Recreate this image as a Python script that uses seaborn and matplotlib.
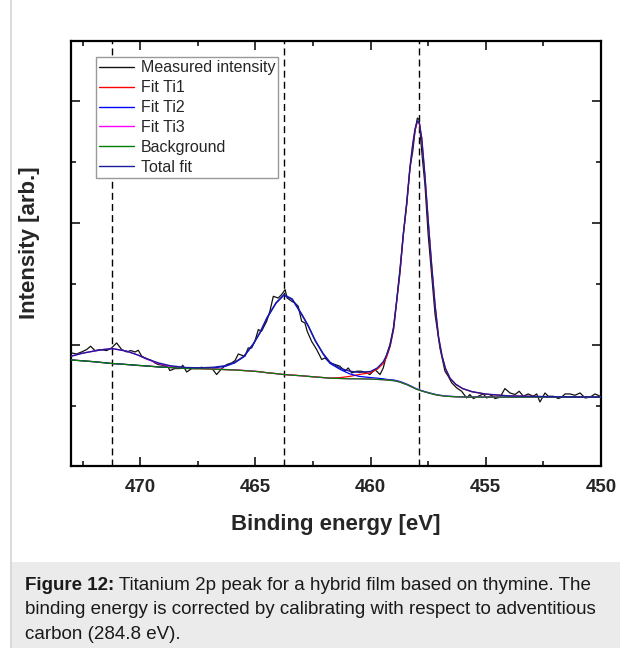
import numpy as np
import pandas as pd
import matplotlib
matplotlib.use('Agg')
import matplotlib.pyplot as plt
import seaborn as sns
from matplotlib.lines import Line2D
from matplotlib.patches import Rectangle
from matplotlib.ticker import MultipleLocator

# ---------------- data ----------------
meas_ev = [472.97, 472.76, 472.54, 472.32, 472.15, 471.96, 471.74, 471.45, 471.24, 471.02,
           470.80, 470.58, 470.41, 470.22, 470.08, 469.93, 469.72, 469.50, 469.36, 469.21,
           469.00, 468.78, 468.71, 468.49, 468.27, 468.15, 467.98, 467.76, 467.55, 467.33,
           467.11, 466.90, 466.68, 466.46, 466.24, 466.03, 465.88, 465.74, 465.59, 465.45,
           465.31, 465.16, 465.02, 464.87, 464.73, 464.51, 464.37, 464.22, 464.01, 463.86,
           463.71, 463.62, 463.42, 463.28, 463.14, 462.99, 462.85, 462.75, 462.56, 462.34,
           462.12, 461.98, 461.76, 461.54, 461.33, 461.11, 460.97, 460.82, 460.60, 460.39,
           460.17, 460.03, 459.81, 459.59, 459.45, 459.30, 459.16, 459.01, 458.87, 458.72,
           458.58, 458.43, 458.29, 458.17, 458.07, 457.97, 457.89, 457.78, 457.64, 457.50,
           457.35, 457.20, 456.99, 456.77, 456.63, 456.48, 456.26, 456.05, 455.83, 455.69,
           455.54, 455.33, 455.11, 454.96, 454.74, 454.60, 454.38, 454.17, 453.95, 453.73,
           453.55, 453.37, 453.16, 452.94, 452.79, 452.65, 452.43, 452.29, 452.07, 451.85,
           451.71, 451.56, 451.35, 451.13, 450.91, 450.69, 450.48, 450.26, 450.04]
meas_int = [1.874, 1.857, 1.890, 1.930, 1.984, 1.913, 1.930, 1.913, 1.956, 2.038,
            1.930, 1.890, 1.913, 1.890, 1.918, 1.820, 1.782, 1.749, 1.710, 1.684,
            1.672, 1.639, 1.585, 1.618, 1.618, 1.672, 1.562, 1.618, 1.618, 1.639,
            1.618, 1.628, 1.520, 1.618, 1.684, 1.710, 1.749, 1.857, 1.836, 1.820,
            1.956, 1.956, 2.066, 2.257, 2.230, 2.393, 2.557, 2.803, 2.775, 2.831,
            2.913, 2.775, 2.721, 2.693, 2.639, 2.393, 2.366, 2.230, 2.066, 1.930,
            1.766, 1.792, 1.710, 1.684, 1.656, 1.574, 1.628, 1.546, 1.574, 1.574,
            1.546, 1.520, 1.602, 1.520, 1.628, 1.848, 2.011, 2.284, 2.721, 3.267,
            3.815, 4.307, 4.907, 5.180, 5.508, 5.726, 5.700, 5.180, 4.634, 3.815,
            3.159, 2.503, 1.956, 1.574, 1.492, 1.385, 1.300, 1.246, 1.136, 1.192,
            1.126, 1.164, 1.202, 1.136, 1.180, 1.126, 1.148, 1.290, 1.218, 1.192,
            1.246, 1.164, 1.202, 1.164, 1.202, 1.070, 1.218, 1.164, 1.164, 1.126,
            1.148, 1.202, 1.202, 1.180, 1.218, 1.136, 1.148, 1.202, 1.164]

fit_ev = [473.0, 472.5, 472.0, 471.6, 471.2, 470.6, 470.1, 469.7, 469.2, 468.7,
          468.0, 467.4, 466.8, 466.3, 465.9, 465.5, 465.1, 464.8, 464.5, 464.1,
          463.76, 463.4, 463.0, 462.7, 462.4, 462.05, 461.75, 461.3, 460.9, 460.5,
          460.0, 459.7, 459.45, 459.3, 459.15, 459.0, 458.87, 458.72, 458.58, 458.43,
          458.29, 458.17, 458.07, 457.97, 457.89, 457.78, 457.64, 457.5, 457.35, 457.2,
          457.05, 456.9, 456.75, 456.55, 456.3, 456.0, 455.6, 455.0, 454.0, 452.0, 450.0]

background = [1.76, 1.745, 1.73, 1.715, 1.70, 1.685, 1.67, 1.66, 1.645, 1.635,
              1.62, 1.615, 1.61, 1.60, 1.595, 1.585, 1.575, 1.565, 1.55, 1.535,
              1.52, 1.51, 1.50, 1.49, 1.48, 1.47, 1.46, 1.455, 1.45, 1.45,
              1.445, 1.44, 1.435, 1.43, 1.425, 1.42, 1.41, 1.395, 1.375, 1.355,
              1.33, 1.31, 1.29, 1.275, 1.265, 1.25, 1.235, 1.22, 1.205, 1.19,
              1.18, 1.172, 1.165, 1.16, 1.155, 1.152, 1.15, 1.15, 1.15, 1.15, 1.15]

total_fit = [1.82, 1.87, 1.905, 1.93, 1.945, 1.905, 1.84, 1.775, 1.71, 1.665,
             1.635, 1.63, 1.64, 1.665, 1.72, 1.82, 2.02, 2.21, 2.45, 2.70,
             2.83, 2.76, 2.52, 2.32, 2.08, 1.86, 1.72, 1.62, 1.575, 1.555,
             1.57, 1.63, 1.73, 1.84, 2.0, 2.28, 2.72, 3.22, 3.82, 4.35,
             4.92, 5.30, 5.55, 5.68, 5.66, 5.40, 4.78, 4.05, 3.32, 2.66,
             2.14, 1.83, 1.62, 1.46, 1.36, 1.29, 1.24, 1.20, 1.17, 1.155, 1.15]

fit_ti1 = [1.76, 1.745, 1.73, 1.715, 1.70, 1.685, 1.67, 1.66, 1.645, 1.635,
           1.62, 1.615, 1.61, 1.60, 1.595, 1.585, 1.575, 1.565, 1.55, 1.535,
           1.52, 1.51, 1.50, 1.49, 1.48, 1.47, 1.462, 1.47, 1.49, 1.52,
           1.55, 1.61, 1.70, 1.81, 1.98, 2.26, 2.70, 3.20, 3.80, 4.33,
           4.90, 5.28, 5.53, 5.66, 5.645, 5.39, 4.77, 4.04, 3.31, 2.65,
           2.13, 1.82, 1.615, 1.455, 1.355, 1.287, 1.237, 1.198, 1.168, 1.154, 1.15]

fit_ti2 = [1.76, 1.745, 1.73, 1.715, 1.70, 1.685, 1.67, 1.66, 1.645, 1.637,
           1.625, 1.622, 1.63, 1.655, 1.71, 1.81, 2.01, 2.20, 2.44, 2.69,
           2.82, 2.75, 2.51, 2.31, 2.07, 1.85, 1.70, 1.60, 1.53, 1.49,
           1.47, 1.46, 1.45, 1.44, 1.435, 1.43, 1.42, 1.405, 1.385, 1.363,
           1.338, 1.317, 1.297, 1.281, 1.271, 1.256, 1.24, 1.225, 1.21, 1.195,
           1.184, 1.176, 1.168, 1.163, 1.158, 1.154, 1.152, 1.151, 1.15, 1.15, 1.15]

fit_ti3 = [1.82, 1.87, 1.905, 1.93, 1.945, 1.905, 1.84, 1.77, 1.70, 1.655,
           1.628, 1.62, 1.613, 1.603, 1.597, 1.587, 1.577, 1.565, 1.55, 1.535,
           1.52, 1.51, 1.50, 1.49, 1.48, 1.47, 1.46, 1.455, 1.45, 1.45,
           1.445, 1.44, 1.435, 1.43, 1.425, 1.42, 1.41, 1.395, 1.375, 1.355,
           1.33, 1.31, 1.29, 1.275, 1.265, 1.25, 1.235, 1.22, 1.205, 1.19,
           1.18, 1.172, 1.165, 1.16, 1.155, 1.152, 1.15, 1.15, 1.15, 1.15, 1.15]

peak_positions = [471.2, 463.76, 457.9]

x_ticks = [470, 465, 460, 455, 450]
x_tick_labels = ['470', '465', '460', '455', '450']

caption_bold = "Figure 12:"
caption_lines = [" Titanium 2p peak for a hybrid film based on thymine. The",
                 "binding energy is corrected by calibrating with respect to adventitious",
                 "carbon (284.8 eV)."]

# ---------------- styling ----------------
sns.set_style('ticks')
plt.rcParams['font.family'] = ['Liberation Sans', 'DejaVu Sans']

W, H = 620, 648
fig = plt.figure(figsize=(W / 100, H / 100), dpi=100)
fig.patch.set_facecolor('white')

# caption panel and left border
fig.add_artist(Rectangle((10 / W, 0), 1 - 10 / W, 86 / H, transform=fig.transFigure,
                         facecolor='#ebebeb', edgecolor='none', zorder=0))
fig.add_artist(Line2D([10.5 / W, 10.5 / W], [0, 1], transform=fig.transFigure,
                      color='#d6d6d6', lw=1.2, zorder=1))

ax = fig.add_axes([71 / W, 1 - 466 / H, 530 / W, 425 / H])

for xv in peak_positions:
    ax.axvline(xv, color='black', lw=1.0, ls=(0, (5, 3)), zorder=1)

series = [
    (meas_ev, meas_int, 'Measured intensity', '#111111', 0.9),
    (fit_ev, fit_ti1, 'Fit Ti1', '#ff0000', 0.9),
    (fit_ev, fit_ti2, 'Fit Ti2', '#0000ff', 0.9),
    (fit_ev, fit_ti3, 'Fit Ti3', '#ff00ff', 0.9),
    (fit_ev, background, 'Background', '#008000', 0.9),
    (fit_ev, total_fit, 'Total fit', '#1c1c9c', 1.0),
]
for xs, ys, lab, col, lw in series:
    df = pd.DataFrame({'ev': xs, 'y': ys})
    sns.lineplot(data=df, x='ev', y='y', ax=ax, color=col, lw=lw, label=lab,
                 estimator=None, sort=False, zorder=3)

ax.set_xlim(473.0, 450.0)
ax.set_ylim(0.02, 6.99)
ax.set_xticks(x_ticks)
ax.set_xticklabels(x_tick_labels)
ax.xaxis.set_minor_locator(MultipleLocator(2.5))
ax.yaxis.set_major_locator(MultipleLocator(2))
ax.yaxis.set_minor_locator(MultipleLocator(1))
ax.tick_params(which='both', direction='in', top=True, right=True, labelleft=False)
ax.tick_params(which='major', length=6.5, width=1.3, pad=9)
ax.tick_params(which='minor', length=3.5, width=1.3)
for lab in ax.get_xticklabels():
    lab.set_fontsize(13.5)
    lab.set_fontweight('bold')
for sp in ax.spines.values():
    sp.set_linewidth(1.6)
    sp.set_color('black')

ax.set_xlabel('Binding energy [eV]', fontsize=16, fontweight='bold', labelpad=13.5)
ax.set_ylabel('Intensity [arb.]', fontsize=16, fontweight='bold')
ax.yaxis.set_label_coords((40 - 71) / 530, (466 - 243) / 425)

leg = ax.legend(loc='upper left', bbox_to_anchor=(25 / 530, (466 - 57) / 425),
                borderaxespad=0, fontsize=11.5, frameon=True, fancybox=False,
                edgecolor='#999999', framealpha=1, handlelength=2.2,
                handletextpad=0.4, labelspacing=0.31, borderpad=0.2)
leg.get_frame().set_linewidth(1.0)
for line in leg.get_lines():
    line.set_linewidth(1.0)

# caption text (bold lead then normal)
fig.canvas.draw()
renderer = fig.canvas.get_renderer()
x0 = 25 / W
baselines = [590, 614.5, 639]
cap_fs = 13.5
t_bold = fig.text(x0, 1 - baselines[0] / H, caption_bold, fontsize=cap_fs, fontweight='bold',
                  color='#1a1a1a', va='baseline', ha='left')
bb = t_bold.get_window_extent(renderer=renderer)
fig.text(bb.x1 / W, 1 - baselines[0] / H, caption_lines[0], fontsize=cap_fs,
         color='#1a1a1a', va='baseline', ha='left')
for i in (1, 2):
    fig.text(x0, 1 - baselines[i] / H, caption_lines[i], fontsize=cap_fs,
             color='#1a1a1a', va='baseline', ha='left')

fig.savefig('out.png', dpi=100, facecolor='white')
